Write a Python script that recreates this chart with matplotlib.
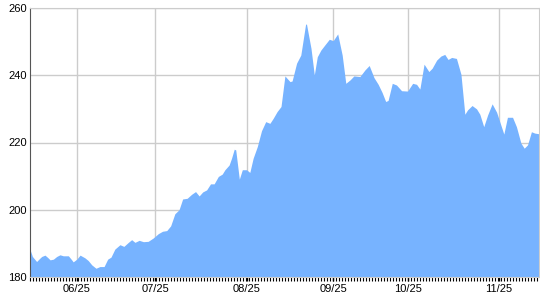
import matplotlib
matplotlib.use("Agg")
import matplotlib.pyplot as plt
import numpy as np

# positions along the x axis (one unit per bottom tick) and values
xpos = [0, 0.1, 0.9, 2.3, 3.4, 4.0, 5.1, 6.0, 6.8, 7.9, 9.0, 10.1, 11.2, 12.9, 14.0,
        14.5, 15.7, 16.8, 18.4, 19.5, 20.7, 22.1, 23.4, 24.8, 26.0, 27.1, 28.4, 30.1,
        31.4, 32.9, 34.0, 35.1, 36.5, 37.9, 39.5, 41.2, 42.9, 44.3, 45.7, 47.0, 48.4,
        49.8, 51.0, 52.5, 54.0, 55.3, 56.5, 57.7, 59.0, 60.3, 61.5, 62.9, 64.2, 65.1,
        66.5, 67.3, 68.2, 68.7, 69.9, 70.9, 72.3, 73.4, 74.5, 75.9, 77.3, 78.7, 80.1,
        81.2, 82.5, 83.8, 85.1, 86.8, 87.5, 89.0, 90.4, 92.0, 92.3, 93.8, 94.9, 95.9,
        97.1, 98.4, 99.9, 101.2, 102.7, 104.2, 105.4, 106.8, 108.1, 110.1, 111.8, 113.2,
        114.8, 116.2, 117.5, 118.7, 119.5, 120.9, 122.3, 124.0, 126.0, 127.7, 129.0,
        130.1, 131.5, 133.1, 134.2, 135.7, 137.1, 138.4, 139.5, 140.7, 142.3, 143.8,
        145.1, 146.0, 147.5, 149.0, 150.1, 151.4, 152.7, 154.2, 155.7, 157.1, 158.1,
        159.3, 161.0, 162.3, 163.8, 164.9, 166.0, 167.3, 168.4, 169.8]
values = [188.6, 188.2, 186.1, 184.6, 185.6, 186.1, 186.5, 185.8, 185.1, 185.3, 186.1,
          186.6, 186.3, 186.3, 185.1, 184.5, 185.3, 186.5, 185.7, 184.9, 183.6, 182.6,
          183.1, 183.1, 185.3, 185.9, 188.3, 189.6, 189.1, 190.3, 191.1, 190.3, 190.9,
          190.5, 190.6, 191.6, 192.9, 193.6, 193.8, 195.2, 198.8, 200.0, 203.2, 203.4,
          204.6, 205.4, 204.1, 205.3, 205.9, 207.7, 207.7, 209.9, 210.6, 211.9, 213.3,
          215.3, 218.0, 217.8, 209.1, 211.9, 211.9, 211.1, 215.3, 218.8, 223.5, 226.2,
          225.7, 227.2, 229.2, 230.7, 239.8, 238.1, 238.3, 243.6, 246.0, 255.2, 255.2,
          248.0, 240.1, 245.5, 247.5, 249.0, 250.7, 250.3, 252.3, 246.0, 237.6, 238.6,
          239.8, 239.6, 241.6, 242.9, 239.3, 237.3, 234.9, 232.2, 232.5, 237.6, 237.1,
          235.4, 235.3, 237.6, 237.3, 235.9, 243.3, 241.1, 242.1, 244.5, 245.7, 246.2,
          244.7, 245.3, 245.0, 240.3, 228.4, 229.7, 231.0, 230.0, 228.4, 224.7, 228.2,
          231.5, 229.0, 225.2, 222.5, 227.5, 227.5, 224.7, 219.8, 218.3, 219.3, 223.2,
          222.8, 222.6]

month_pos = [15.67, 41.87, 72.33, 101.2, 126.3, 156.5]
month_labels = ['06/25', '07/25', '08/25', '09/25', '10/25', '11/25']
y_ticks = [180, 200, 220, 240, 260]

plt.rcParams['font.family'] = ['Liberation Sans', 'DejaVu Sans']

fig = plt.figure(figsize=(5.4, 3.0), dpi=100)
ax = fig.add_axes([0.055, 0.0767, 0.943, 0.8966])

ax.fill_between(xpos, values, 180, color='#77b3ff', linewidth=0, zorder=2)

ax.set_xlim(0, 169.8)
ax.set_ylim(180, 260)
ax.set_yticks(y_ticks)
ax.set_xticks(month_pos)
ax.set_xticklabels(month_labels)
ax.set_xticks(np.arange(0, 170, 1), minor=True)

ax.grid(True, color='#cccccc', linewidth=1, zorder=0)
ax.set_axisbelow(True)

ax.tick_params(axis='y', length=0, pad=2, labelsize=8, colors='black')
ax.tick_params(axis='x', which='major', length=3, width=1, pad=2, labelsize=8, colors='black')
ax.tick_params(axis='x', which='minor', length=3, width=0.8, color='black')

ax.spines['left'].set_color('#555555')
ax.spines['bottom'].set_color('#cccccc')
ax.spines['top'].set_color('#cccccc')
ax.spines['right'].set_color('#cccccc')

fig.savefig('out.png', dpi=100)
